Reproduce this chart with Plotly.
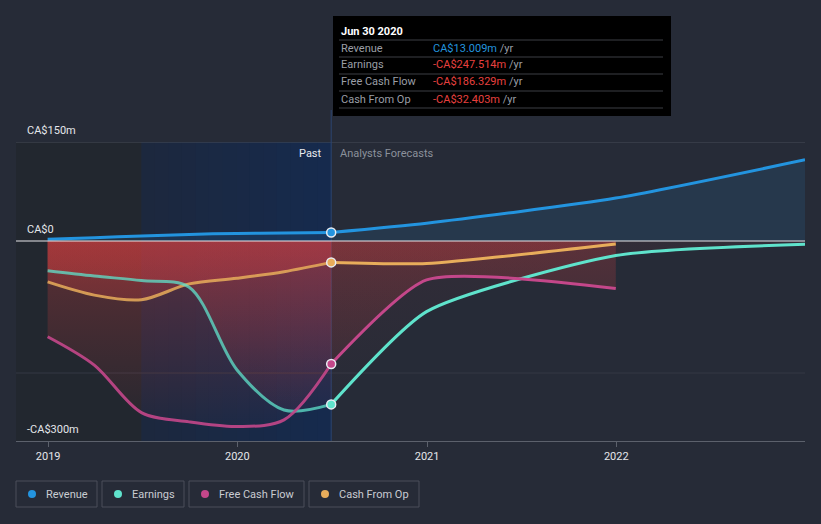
import plotly.graph_objects as go
import datetime as _dt

# ---------------- data ----------------
past_dates = ['2018-12-31', '2019-03-31', '2019-06-30', '2019-09-30',
              '2019-12-31', '2020-03-31', '2020-06-30']
fc_dates = ['2020-06-30', '2020-12-31', '2021-12-31', '2022-12-31']

rev_past = [2.5, 5.0, 7.5, 10.0, 11.5, 12.3, 13.009]
rev_fc = [13.009, 27.0, 65.0, 123.0]

earn_past = [-45.0, -53.0, -60.0, -70.0, -195.0, -256.0, -247.514]
earn_fc = [-247.514, -107.0, -22.0, -5.0]

fcf_past = [-145.0, -188.0, -260.0, -274.0, -281.0, -271.0, -186.329]
fcf_fc = [-186.329, -59.0, -72.0]

cfo_past = [-62.0, -82.0, -89.0, -65.0, -56.5, -46.5, -32.403]
cfo_fc = [-32.403, -34.0, -4.5]

series_names = ['Revenue', 'Earnings', 'Free Cash Flow', 'Cash From Op']
series_colors = ['#2394df', '#5fe3cc', '#c4478a', '#e8ad5b']
tooltip_date = 'Jun 30 2020'
tooltip_values = ['CA$13.009m', '-CA$247.514m', '-CA$186.329m', '-CA$32.403m']
y_labels = [(150, 'CA$150m', 3), (0, 'CA$0', 3), (-300, '-CA$300m', 1)]
x_ticks = ['2019-01-01', '2020-01-01', '2021-01-01', '2022-01-01']
x_tick_text = ['2019', '2020', '2021', '2022']

# ---------------- geometry helpers ----------------
W, H = 821, 524
ML, MR, MT, MB = 16, 16, 142, 83
PW, PH = W - ML - MR, H - MT - MB
Y_RANGE = [-303, 150]
X_RANGE = ['2018-10-31', '2022-12-31']


def px_x(px):
    return (px - ML) / PW


def px_y(py):
    return (H - MB - py) / PH


BG = '#262b37'
FONT = 'Roboto'
SM_PAST = 0.9
SM_FC = 0.6

fig = go.Figure()


# -------- fills (drawn first) --------
def neg_grad(alpha):
    return dict(type='vertical', start=-300, stop=0,
                colorscale=[[0, 'rgba(226,64,64,0)'], [1, f'rgba(226,64,64,{alpha})']])


for xs, ys in [(past_dates, fcf_past), (past_dates, earn_past), (past_dates, cfo_past)]:
    fig.add_trace(go.Scatter(x=xs, y=ys, mode='lines', line=dict(width=0, shape='spline', smoothing=SM_PAST),
                             fill='tozeroy', fillgradient=neg_grad(0.31), hoverinfo='skip', showlegend=False))

for xs, ys, a in [(fc_dates[:3], fcf_fc, 0.24), (fc_dates[:3], cfo_fc, 0.22), (fc_dates, earn_fc, 0.06)]:
    fig.add_trace(go.Scatter(x=xs, y=ys, mode='lines', line=dict(width=0, shape='spline', smoothing=SM_FC),
                             fill='tozeroy', fillgradient=neg_grad(a), hoverinfo='skip', showlegend=False))

for xs, ys, sm in [(past_dates, rev_past, SM_PAST), (fc_dates, rev_fc, SM_FC)]:
    fig.add_trace(go.Scatter(x=xs, y=ys, mode='lines', line=dict(width=0, shape='spline', smoothing=sm),
                             fill='tozeroy', fillcolor='rgba(35,148,223,0.13)', hoverinfo='skip', showlegend=False))

# -------- lines --------
line_sets = [
    (rev_past, rev_fc, fc_dates, series_colors[0], 1.0),
    (cfo_past, cfo_fc, fc_dates[:3], series_colors[3], 0.85),
    (earn_past, earn_fc, fc_dates, series_colors[1], 0.75),
    (fcf_past, fcf_fc, fc_dates[:3], series_colors[2], 0.9),
]
for past, fc, fcd, col, op in line_sets:
    fig.add_trace(go.Scatter(x=past_dates, y=past, mode='lines', opacity=op,
                             line=dict(color=col, width=3, shape='spline', smoothing=SM_PAST),
                             hoverinfo='skip', showlegend=False))
    fig.add_trace(go.Scatter(x=fcd, y=fc, mode='lines',
                             line=dict(color=col, width=3, shape='spline', smoothing=SM_FC),
                             hoverinfo='skip', showlegend=False))

# markers at the tooltip date
for vals, col in [(rev_past, series_colors[0]), (cfo_past, series_colors[3]),
                  (fcf_past, series_colors[2]), (earn_past, series_colors[1])]:
    fig.add_trace(go.Scatter(x=[past_dates[-1]], y=[vals[-1]], mode='markers',
                             marker=dict(size=9, color=col, line=dict(color='#e8ecf2', width=1.5)),
                             hoverinfo='skip', showlegend=False))

shapes = []
annotations = []

# -------- background bands --------
shapes.append(dict(type='rect', xref='x', yref='paper', x0=X_RANGE[0], x1='2019-06-30', y0=0, y1=1,
                   fillcolor='#22272f', line=dict(width=0), layer='below'))
b0 = _dt.date(2019, 6, 30)
b1 = _dt.date(2020, 6, 30)
n = 14
c0 = (28, 40, 62)
c1 = (22, 42, 77)
span = (b1 - b0).days
for i in range(n):
    d0 = b0 + _dt.timedelta(days=span * i / n)
    d1 = b0 + _dt.timedelta(days=span * (i + 1) / n + 1)
    t = i / (n - 1)
    c = tuple(round(c0[k] + (c1[k] - c0[k]) * t) for k in range(3))
    shapes.append(dict(type='rect', xref='x', yref='paper', x0=d0.isoformat(), x1=min(d1, b1).isoformat(),
                       y0=0, y1=1, fillcolor='rgb(%d,%d,%d)' % c, line=dict(width=0), layer='below'))

# gridlines
shapes.append(dict(type='line', xref='paper', yref='y', x0=0, x1=1, y0=150, y1=150,
                   line=dict(color='#474c58', width=1), layer='below'))
shapes.append(dict(type='line', xref='paper', yref='y', x0=0, x1=1, y0=-200, y1=-200,
                   line=dict(color='#343945', width=1), layer='below'))
shapes.append(dict(type='line', xref='paper', yref='y', x0=0, x1=1, y0=0, y1=0,
                   line=dict(color='#e6e6ea', width=1.2), layer='above'))

# vertical line at the tooltip date
shapes.append(dict(type='line', xref='x', yref='paper', x0='2020-06-30', x1='2020-06-30', y0=0, y1=px_y(110),
                   line=dict(color='#2c4470', width=1), layer='below'))

# y labels
for v, t, ys in y_labels:
    annotations.append(dict(xref='paper', yref='y', x=px_x(25), y=v, text=t, showarrow=False,
                            xanchor='left', yanchor='bottom', yshift=ys,
                            font=dict(family=FONT, size=11, color='#e4e6ea')))

# Past / Analysts Forecasts
annotations.append(dict(xref='x', yref='paper', x='2020-06-30', y=px_y(153), text='Past', showarrow=False,
                        xanchor='right', yanchor='middle', xshift=-7,
                        font=dict(family=FONT, size=11, color='#e8eaee')))
annotations.append(dict(xref='x', yref='paper', x='2020-06-30', y=px_y(153), text='Analysts Forecasts',
                        showarrow=False, xanchor='left', yanchor='middle', xshift=7,
                        font=dict(family=FONT, size=11, color='#8b919b')))

# -------- tooltip --------
shapes.append(dict(type='rect', xref='paper', yref='paper', x0=px_x(333), x1=px_x(671),
                   y0=px_y(116), y1=px_y(16), fillcolor='#000000', line=dict(width=0), layer='above'))
annotations.append(dict(xref='paper', yref='paper', x=px_x(339), y=px_y(31), text='<b>' + tooltip_date + '</b>',
                        showarrow=False, xanchor='left', yanchor='middle',
                        font=dict(family=FONT, size=11, color='#ffffff')))
for ly in [40, 57, 74, 91, 108]:
    shapes.append(dict(type='line', xref='paper', yref='paper', x0=px_x(339), x1=px_x(663),
                       y0=px_y(ly), y1=px_y(ly), line=dict(color='#3c3f45', width=1), layer='above'))
for i, (nm, val) in enumerate(zip(series_names, tooltip_values)):
    ry = 48 + 17 * i
    vcol = '#2394df' if i == 0 else '#e8403f'
    annotations.append(dict(xref='paper', yref='paper', x=px_x(339), y=px_y(ry), text=nm, showarrow=False,
                            xanchor='left', yanchor='middle', font=dict(family=FONT, size=11, color='#9a9ea6')))
    annotations.append(dict(xref='paper', yref='paper', x=px_x(431), y=px_y(ry),
                            text=f"<span style='color:{vcol}'>{val}</span> /yr", showarrow=False,
                            xanchor='left', yanchor='middle', font=dict(family=FONT, size=11, color='#9a9ea6')))

# -------- legend (boxed items) --------
leg = [(16, 97, 32, 44), (102, 184, 118, 130), (189, 304, 205, 217), (309, 419, 325, 337)]
for (bx0, bx1, cx, tx), nm, col in zip(leg, series_names, series_colors):
    shapes.append(dict(type='rect', xref='paper', yref='paper', x0=px_x(bx0), x1=px_x(bx1),
                       y0=px_y(507), y1=px_y(481), fillcolor='rgba(0,0,0,0)',
                       line=dict(color='#4a4f5b', width=1), layer='above'))
    shapes.append(dict(type='circle', xref='paper', yref='paper', x0=px_x(cx - 4), x1=px_x(cx + 4),
                       y0=px_y(498), y1=px_y(490), fillcolor=col, line=dict(width=0), layer='above'))
    annotations.append(dict(xref='paper', yref='paper', x=px_x(tx), y=px_y(494), text=nm, showarrow=False,
                            xanchor='left', yanchor='middle', font=dict(family=FONT, size=11, color='#c9ccd2')))

fig.update_layout(
    width=W, height=H,
    margin=dict(l=ML, r=MR, t=MT, b=MB),
    paper_bgcolor=BG, plot_bgcolor=BG,
    showlegend=False,
    shapes=shapes, annotations=annotations,
    hovermode=False,
    xaxis=dict(type='date', range=X_RANGE, showgrid=False, zeroline=False,
               tickvals=x_ticks, ticktext=x_tick_text, ticks='outside', ticklen=5, tickcolor='#5c616c',
               showline=True, linecolor='#5c616c', linewidth=1,
               tickfont=dict(family=FONT, size=11, color='#e4e6ea'), fixedrange=True),
    yaxis=dict(range=Y_RANGE, showgrid=False, zeroline=False, showticklabels=False, fixedrange=True),
)

fig.write_html('out.html', config={'displayModeBar': False},
               post_script="document.body.style.margin='0';document.body.style.overflow='hidden';"
                           "document.body.style.background='" + BG + "';")
